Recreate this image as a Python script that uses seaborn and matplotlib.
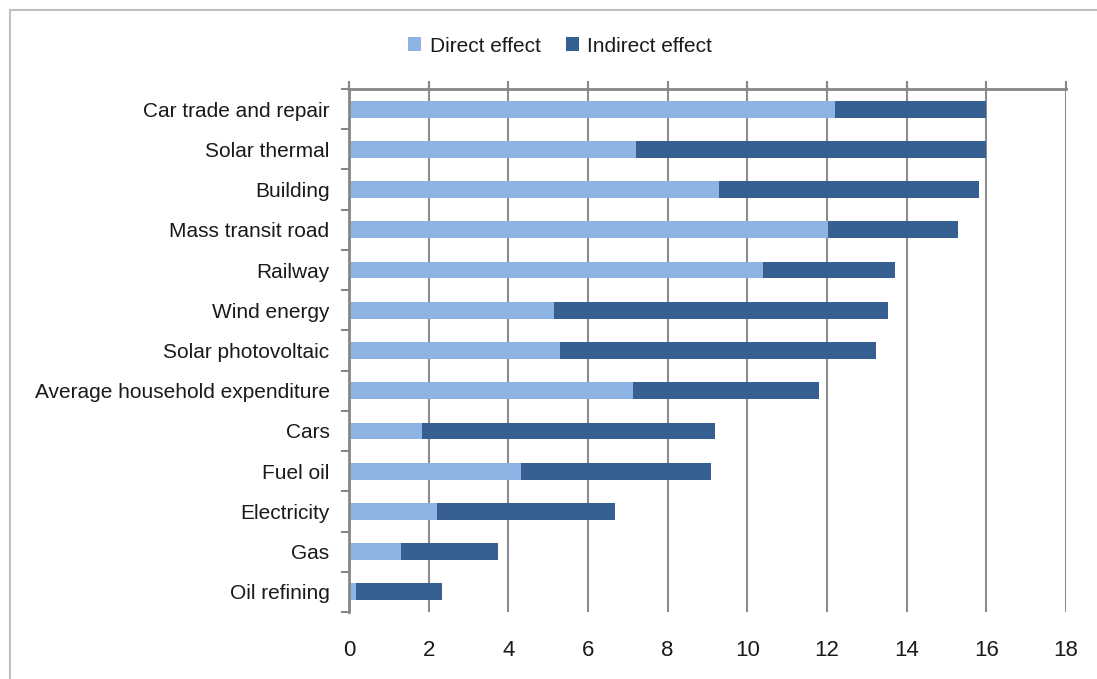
import matplotlib
matplotlib.use("Agg")
import matplotlib.pyplot as plt
from matplotlib.patches import Patch, Rectangle
import seaborn as sns
import pandas as pd
import numpy as np

categories = ["Car trade and repair", "Solar thermal", "Building", "Mass transit road",
              "Railway", "Wind energy", "Solar photovoltaic", "Average household expenditure",
              "Cars", "Fuel oil", "Electricity", "Gas", "Oil refining"]
direct = [12.2, 7.2, 9.3, 12.03, 10.4, 5.15, 5.3, 7.13, 1.83, 4.32, 2.2, 1.31, 0.18]
indirect = [3.8, 8.8, 6.52, 3.27, 3.3, 8.38, 7.93, 4.67, 7.36, 4.77, 4.48, 2.43, 2.15]
xticks = [0, 2, 4, 6, 8, 10, 12, 14, 16, 18]

sns.set_theme(style="white")
plt.rcParams['font.family'] = ['Liberation Sans', 'DejaVu Sans']

df = pd.DataFrame({"category": categories, "direct": direct, "indirect": indirect})
df["total"] = df["direct"] + df["indirect"]

light = "#8EB4E3"
dark = "#376092"
grey = "#868686"
txt = "#1a1a1a"
fs = 15

fig = plt.figure(figsize=(10.97, 6.79), dpi=100)
ax = fig.add_axes([349/1097, 1 - 612/679, (1066-349)/1097, (612-89)/679])

sns.barplot(data=df, y="category", x="total", color=dark, orient="h", ax=ax,
            width=0.42, saturation=1, linewidth=0, errorbar=None)
sns.barplot(data=df, y="category", x="direct", color=light, orient="h", ax=ax,
            width=0.42, saturation=1, linewidth=0, errorbar=None)

ax.set_xlim(0, 18)
ax.set_ylim(len(categories) - 0.5, -0.5)
ax.set_xticks(xticks)
ax.set_xticklabels([str(t) for t in xticks], fontsize=fs + 1, color=txt)
ax.set_xlabel("")
ax.set_ylabel("")
ax.grid(axis="x", color="#8c8c8c", linewidth=1.5, zorder=0)
ax.set_axisbelow(True)
ax.tick_params(axis="y", which="major", length=0, pad=14, labelsize=fs, labelcolor=txt)
ax.set_yticks(np.arange(-0.5, len(categories), 1), minor=True)
ax.tick_params(axis="y", which="minor", length=6, width=1.5, color=grey, direction="out", left=True)
ax.tick_params(axis="x", which="major", bottom=False, top=True, labelbottom=True, labeltop=False,
               length=6, width=1.5, color=grey, direction="out", pad=14)

for s in ["bottom", "right"]:
    ax.spines[s].set_visible(False)
for s in ["left", "top"]:
    ax.spines[s].set_visible(True)
    ax.spines[s].set_color(grey)
    ax.spines[s].set_linewidth(2)

handles = [Patch(facecolor=light, edgecolor="none", label="Direct effect"),
           Patch(facecolor=dark, edgecolor="none", label="Indirect effect")]
leg = fig.legend(handles=handles, loc="center", bbox_to_anchor=(0.5105, 0.932), ncol=2, frameon=False,
                 fontsize=fs, handlelength=0.65, handleheight=0.65, handletextpad=0.4,
                 columnspacing=1.2)
for t in leg.get_texts():
    t.set_color(txt)

fig.patches.append(Rectangle((10/1097, -0.1), 1.2, 1 - 10/679 + 0.1, transform=fig.transFigure,
                             fill=False, edgecolor="#c0c0c0", linewidth=1.5))

fig.savefig("out.png", dpi=100)
